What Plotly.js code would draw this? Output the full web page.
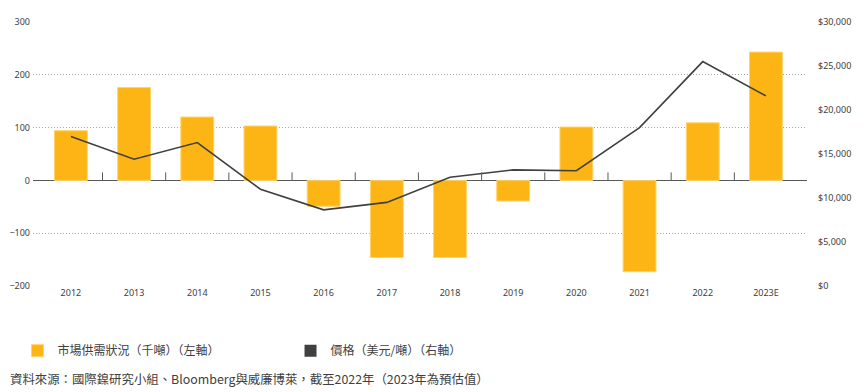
<!DOCTYPE html>
<html>
<head>
<meta charset="utf-8">
<script src="https://cdn.plot.ly/plotly-3.0.1.min.js"></script>
<style>html,body{margin:0;padding:0;background:#fff;}#chart{width:865px;height:392px;}</style>
</head>
<body>
<div id="chart"></div>
<script>
const years = ['2012','2013','2014','2015','2016','2017','2018','2019','2020','2021','2022','2023E'];
const balance = [94, 176, 120, 103, -49, -146, -146, -39, 101, -173, 109, 243];
const price = [17000, 14400, 16300, 11000, 8650, 9500, 12350, 13200, 13100, 18000, 25500, 21600];
const leftTicks = [-200, -100, 0, 100, 200, 300];
const rightTicks = [0, 5000, 10000, 15000, 20000, 25000, 30000];
const rightTickText = ['$0', '$5,000', '$10,000', '$15,000', '$20,000', '$25,000', '$30,000'];
const balanceName = '市場供需狀況（千噸）（左軸）';
const priceName = '價格（美元/噸）（右軸）';
const sourceText = '資料來源：國際鎳研究小組、Bloomberg與威廉博萊，截至2022年（2023年為預估值）';

const orange = '#FDB515';
const dark = '#404040';
const fontFam = '"Noto Sans", "Noto Sans CJK TC", sans-serif';
const cjkFam = '"Noto Sans CJK TC", "Noto Sans", sans-serif';

const traces = [
  {
    type: 'bar', x: years, y: balance, name: balanceName, yaxis: 'y',
    width: 0.52,
    marker: {color: orange, line: {color: '#FFD36B', width: 1}},
    hoverinfo: 'x+y'
  },
  {
    type: 'scatter', mode: 'lines', x: years, y: price, name: priceName, yaxis: 'y2',
    line: {color: dark, width: 1.6},
    showlegend: false
  },
  {
    type: 'bar', x: [years[0]], y: [null], name: priceName, yaxis: 'y2',
    marker: {color: dark}, hoverinfo: 'skip'
  }
];

const tickShapes = years.slice(0, -1).map((_, i) => ({
  type: 'line', xref: 'x', yref: 'y', x0: i + 0.5, x1: i + 0.5,
  ysizemode: 'pixel', yanchor: 0, y0: 0, y1: 8,
  line: {color: '#595959', width: 1}
}));

const layout = {
  width: 865, height: 392,
  margin: {l: 33, r: 58, t: 22, b: 106},
  paper_bgcolor: '#fff', plot_bgcolor: '#fff',
  font: {family: fontFam, size: 9, color: dark},
  showlegend: true,
  barmode: 'overlay',
  xaxis: {
    type: 'category', range: [-0.6, 11.65], showgrid: false, zeroline: false,
    showline: false, ticks: '', tickfont: {size: 9, color: dark}, fixedrange: true
  },
  yaxis: {
    range: [-200, 300], tickvals: leftTicks, showgrid: true,
    gridcolor: '#A6A6A6', griddash: '1px,2px', gridwidth: 1,
    zeroline: true, zerolinecolor: '#595959', zerolinewidth: 1,
    ticks: '', ticklabelstandoff: 2, tickfont: {size: 9, color: dark}, fixedrange: true
  },
  yaxis2: {
    overlaying: 'y', side: 'right', range: [0, 30000],
    tickvals: rightTicks, ticktext: rightTickText, showgrid: false, zeroline: false,
    ticks: '', ticklabelstandoff: 10, tickfont: {size: 9, color: dark}, fixedrange: true
  },
  legend: {
    orientation: 'h', x: -0.02, xanchor: 'left', y: -0.19, yanchor: 'top',
    entrywidth: 228, entrywidthmode: 'pixels',
    font: {family: cjkFam, size: 12, color: dark},
    traceorder: 'normal'
  },
  shapes: tickShapes,
  annotations: [{
    xref: 'paper', yref: 'paper', x: -0.0323, y: -0.354, xanchor: 'left', yanchor: 'middle',
    text: sourceText, showarrow: false,
    font: {family: cjkFam, size: 12.4, color: dark}
  }]
};

Plotly.newPlot('chart', traces, layout, {displayModeBar: false, staticPlot: true});
</script>
</body>
</html>
